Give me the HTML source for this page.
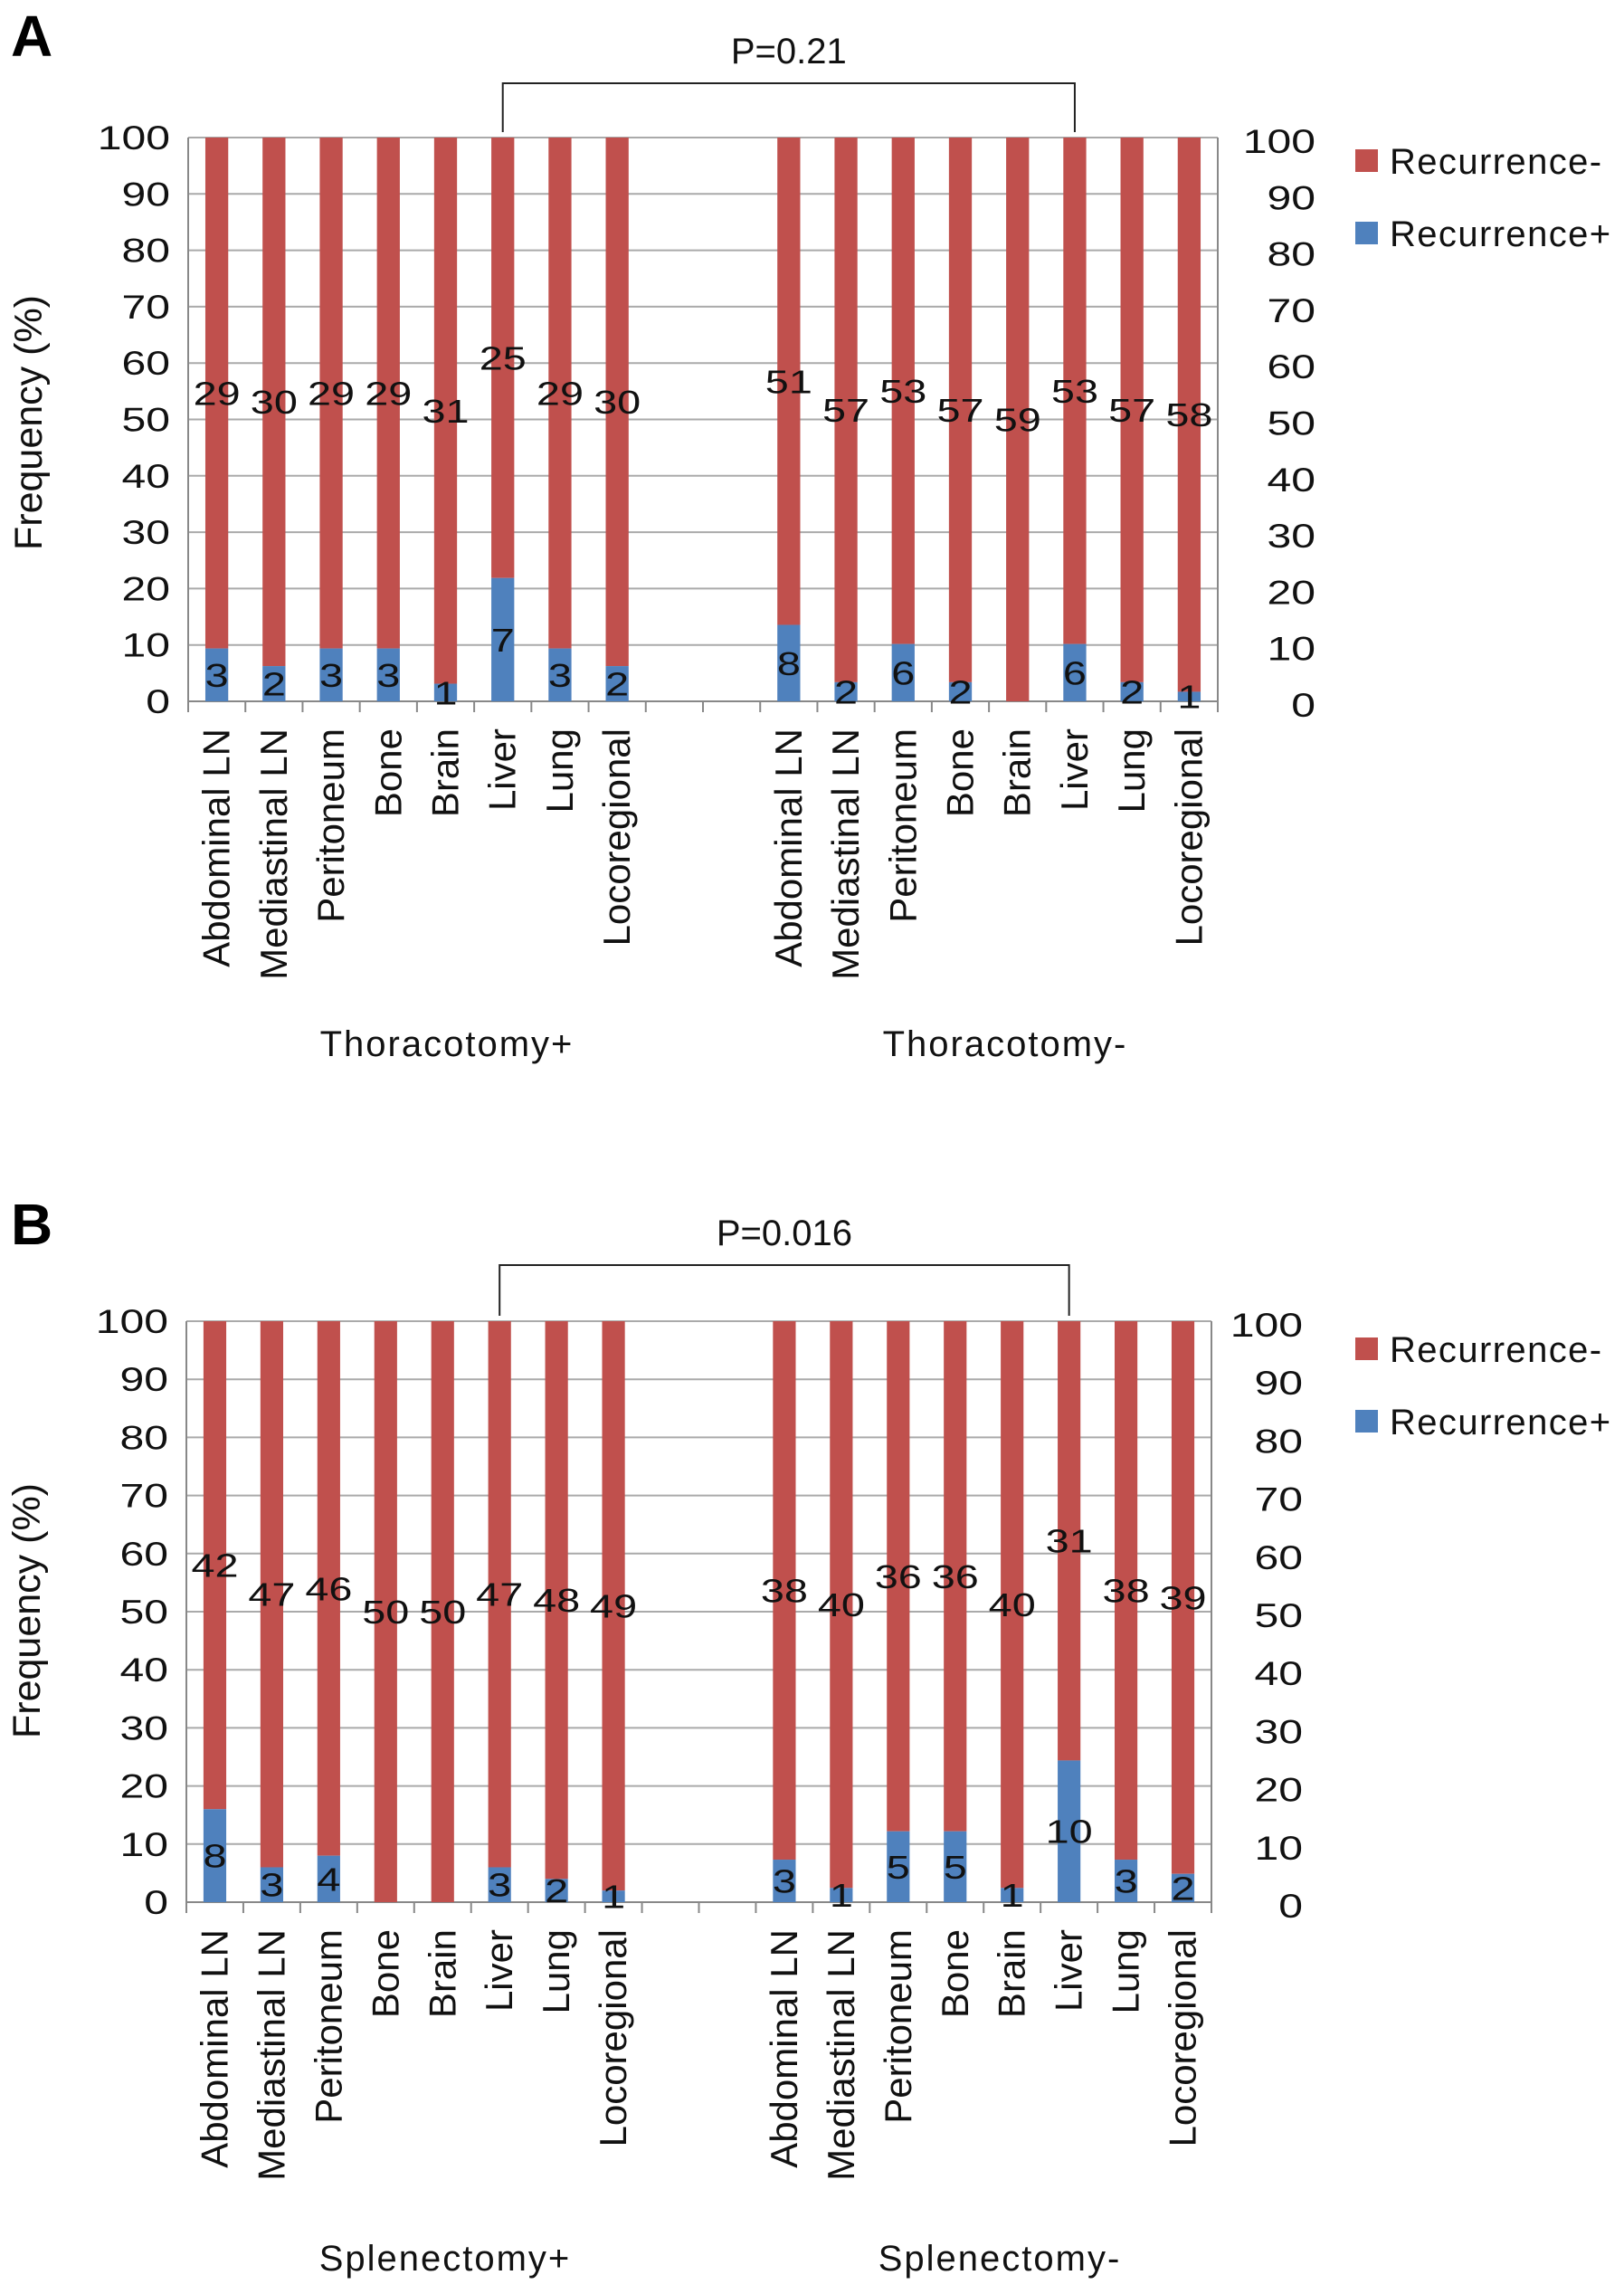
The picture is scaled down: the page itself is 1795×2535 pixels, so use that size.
<!DOCTYPE html>
<html><head><meta charset="utf-8">
<style>
html,body{margin:0;padding:0;background:#fff;}
svg{display:block;font-family:"Liberation Sans",sans-serif;}
</style></head>
<body>
<svg id="chart" width="1795" height="2535" viewBox="0 0 1795 2535" xmlns="http://www.w3.org/2000/svg"></svg>
<script>
const categories = ["Abdominal LN","Mediastinal LN","Peritoneum","Bone","Brain","Liver","Lung","Locoregional"];
const yTicks = [0,10,20,30,40,50,60,70,80,90,100];
const aLeftPos = [3,2,3,3,1,7,3,2];
const aLeftNeg = [29,30,29,29,31,25,29,30];
const aRightPos = [8,2,6,2,0,6,2,1];
const aRightNeg = [51,57,53,57,59,53,57,58];
const bLeftPos = [8,3,4,0,0,3,2,1];
const bLeftNeg = [42,47,46,50,50,47,48,49];
const bRightPos = [3,1,5,5,1,10,3,2];
const bRightNeg = [38,40,36,36,40,31,38,39];
const groupsA = ["Thoracotomy+","Thoracotomy-"];
const groupsB = ["Splenectomy+","Splenectomy-"];
const legendLabels = ["Recurrence-","Recurrence+"];

const NS = "http://www.w3.org/2000/svg";
const svg = document.getElementById('chart');
const RED = "#C0504D", BLUE = "#4F81BD";
function el(tag, attrs, parent, text){
  const e = document.createElementNS(NS, tag);
  for (const k in attrs) e.setAttribute(k, attrs[k]);
  if (text !== undefined) e.textContent = text;
  (parent || svg).appendChild(e);
  return e;
}
function stext(x, y, sx, attrs, parent, text){
  attrs.x = 0; attrs.y = 0;
  attrs.transform = `translate(${x},${y}) scale(${sx},1)`;
  return el('text', attrs, parent, text);
}

function panel(cfg){
  const g = el('g', {});
  
  
  const x0 = cfg.x0, x1 = cfg.x1, yTop = cfg.yTop, yBot = cfg.yBot;
  const slot = (x1 - x0) / 18;
  const yS = v => yBot - (v / 100) * (yBot - yTop);
  const xC = i => x0 + (i + 0.5) * slot;
  const L = el('text', {x: cfg.letterX, y: cfg.letterY, 'font-size': 64, 'font-weight': 'bold', fill: '#000'}, g, cfg.letter);
  
  
  yTicks.forEach(t => {
    const ln = el('line', {x1: x0, x2: x1, y1: yS(t), y2: yS(t), stroke: t === 0 ? '#888' : '#aaa', 'stroke-width': 2}, g);
    
    
    const tl = stext(cfg.leftLabX, yS(t) + 13, 1.3, {'font-size': 37, 'text-anchor': 'end', fill: '#111'}, g, String(t));
    
    
    const tr = stext(cfg.rightLabX, yS(t) + 17, 1.3, {'font-size': 37, 'text-anchor': 'end', fill: '#111'}, g, String(t));
    
    
  });
  el('line', {x1: x0, x2: x0, y1: yTop, y2: yBot + 12, stroke: '#888', 'stroke-width': 2}, g);
  el('line', {x1: x1, x2: x1, y1: yTop, y2: yBot + 12, stroke: '#888', 'stroke-width': 2}, g);
  for (let i = 0; i <= 18; i++) {
    el('line', {x1: x0 + i * slot, x2: x0 + i * slot, y1: yBot, y2: yBot + 12, stroke: '#888', 'stroke-width': 2}, g);
  }
  const yt = el('text', {x: 0, y: 0, 'font-size': 43, 'text-anchor': 'middle', fill: '#111', transform: `translate(${cfg.yTitleX},${cfg.yTitleY}) rotate(-90)`}, g, 'Frequency (%)');
  
  
  const sets = [[cfg.lp, cfg.ln, 0], [cfg.rp, cfg.rn, 10]];
  const bw = slot * 0.4;
  sets.forEach(([pos, neg, off]) => {
    categories.forEach((c, i) => {
      const tot = pos[i] + neg[i];
      const pp = pos[i] / tot * 100;
      const cx = xC(i + off);
      const rb = el('rect', {x: cx - bw / 2, y: yS(100), width: bw, height: yS(pp) - yS(100), fill: RED}, g);
      
      
      if (pos[i] > 0) {
        const bb = el('rect', {x: cx - bw / 2, y: yS(pp), width: bw, height: yS(0) - yS(pp), fill: BLUE}, g);
        
        
        const bl = stext(cx, yS(pp / 2) + 13, 1.3, {'font-size': 36, 'text-anchor': 'middle', fill: '#111'}, g, String(pos[i]));
        
        
      }
      const nl = stext(cx, yS((pp + 100) / 2) + 13, 1.3, {'font-size': 36, 'text-anchor': 'middle', fill: '#111'}, g, String(neg[i]));
      
      
      const cl = el('text', {x: 0, y: 0, 'font-size': 42, 'text-anchor': 'end', fill: '#111', transform: `translate(${cx + 14},${yBot + 30}) rotate(-90)`}, g, c);
      
      
    });
  });
  cfg.groups.forEach((gl, k) => {
    const t = el('text', {x: cfg.groupX[k], y: cfg.groupY, 'font-size': 40, 'letter-spacing': 2, 'text-anchor': 'middle', fill: '#111'}, g, gl);
    
    
  });
  const bx1 = xC(5), bx2 = xC(15);
  const br = el('path', {d: `M${bx1},${yTop - 6} V${cfg.brY} H${bx2} V${yTop - 6}`, fill: 'none', stroke: '#222', 'stroke-width': 2}, g);
  
  
  const pt = el('text', {x: (bx1 + bx2) / 2, y: cfg.brY - 22, 'font-size': 40, 'text-anchor': 'middle', fill: '#111'}, g, cfg.p);
  
  
  legendLabels.forEach((lb, k) => {
    const y = cfg.legY[k];
    const sq = el('rect', {x: 1498, y: y - 13, width: 25, height: 25, fill: k === 0 ? RED : BLUE}, g);
    
    
    const lt = el('text', {x: 1536, y: y + 14, 'font-size': 40, 'letter-spacing': 1.4, fill: '#111'}, g, lb);
    
    
  });
}

panel({name: 'panel-a', letter: 'A', letterX: 12, letterY: 62, x0: 208, x1: 1346, yTop: 152, yBot: 775,
  lp: aLeftPos, ln: aLeftNeg, rp: aRightPos, rn: aRightNeg, leftLabX: 188, rightLabX: 1454,
  yTitleX: 46, yTitleY: 467, groups: groupsA, groupX: [494, 1111], groupY: 1167, brY: 92, p: 'P=0.21', legY: [178, 258]});
panel({name: 'panel-b', letter: 'B', letterX: 12, letterY: 1375, x0: 206, x1: 1339, yTop: 1460, yBot: 2102,
  lp: bLeftPos, ln: bLeftNeg, rp: bRightPos, rn: bRightNeg, leftLabX: 186, rightLabX: 1440,
  yTitleX: 44, yTitleY: 1780, groups: groupsB, groupX: [492, 1105], groupY: 2509, brY: 1398, p: 'P=0.016', legY: [1491, 1571]});
</script>
</body></html>
